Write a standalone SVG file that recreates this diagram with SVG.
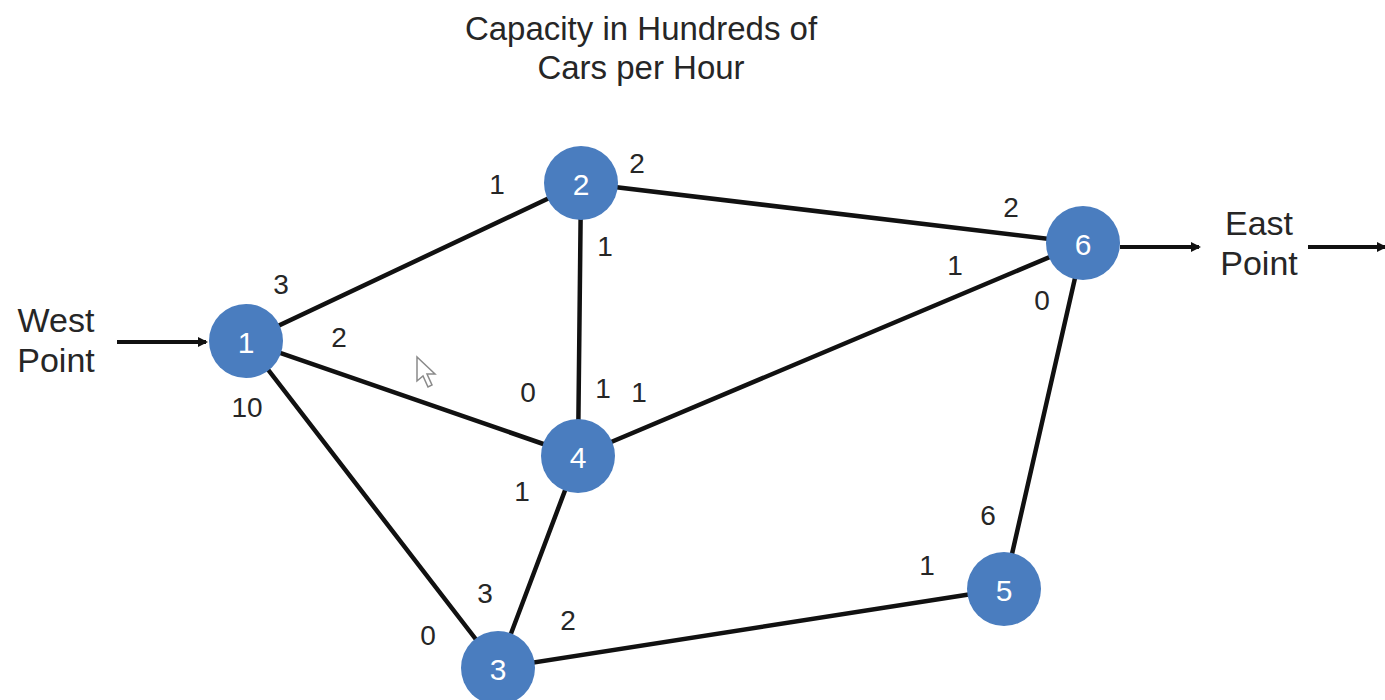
<svg xmlns="http://www.w3.org/2000/svg" width="1385" height="700" viewBox="0 0 1385 700">
<defs>
<style>
.t{font-family:"Liberation Sans",Arial,sans-serif;fill:#262626;}
.title{font-size:33px;text-anchor:middle;}
.side{font-size:34px;text-anchor:middle;}
.lbl{font-size:28px;text-anchor:middle;dominant-baseline:central;}
.nd{fill:#4a7dbf;}
.nt{font-family:"Liberation Sans",Arial,sans-serif;font-size:30px;fill:#ffffff;text-anchor:middle;dominant-baseline:central;}
.e{stroke:#111;stroke-width:4.5;fill:none;stroke-linecap:round;}
.a{stroke:#111;stroke-width:4;fill:none;}
</style>
<marker id="ah" markerWidth="10" markerHeight="10" refX="8" refY="5" orient="auto" markerUnits="userSpaceOnUse">
<path d="M0,0 L10,5 L0,10 Z" fill="#111"/>
</marker>
</defs>
<rect width="1385" height="700" fill="#ffffff"/>
<g id="title">
<text class="t title" x="641" y="40">Capacity in Hundreds of</text>
<text class="t title" x="641" y="79">Cars per Hour</text>
</g>
<g id="connectors">
<line class="e" x1="246" y1="341" x2="581" y2="183"/>
<line class="e" x1="246" y1="341" x2="578" y2="456"/>
<line class="e" x1="246" y1="341" x2="498" y2="668"/>
<line class="e" x1="581" y1="183" x2="1083" y2="243"/>
<line class="e" x1="581" y1="183" x2="578" y2="456"/>
<line class="e" x1="578" y1="456" x2="1083" y2="243"/>
<line class="e" x1="578" y1="456" x2="498" y2="668"/>
<line class="e" x1="498" y1="668" x2="1004" y2="589"/>
<line class="e" x1="1004" y1="589" x2="1083" y2="243"/>
<line class="a" x1="117" y1="342" x2="206" y2="342" marker-end="url(#ah)"/>
<line class="a" x1="1120" y1="247" x2="1199" y2="247" marker-end="url(#ah)"/>
<line class="a" x1="1308" y1="247" x2="1385" y2="247" marker-end="url(#ah)"/>
</g>
<g id="node1"><circle class="nd" cx="246" cy="341" r="37"/><text class="nt" x="246" y="342">1</text></g>
<g id="node2"><circle class="nd" cx="581" cy="183" r="37"/><text class="nt" x="581" y="184">2</text></g>
<g id="node3"><circle class="nd" cx="498" cy="668" r="37"/><text class="nt" x="498" y="669">3</text></g>
<g id="node4"><circle class="nd" cx="578" cy="456" r="37"/><text class="nt" x="578" y="457">4</text></g>
<g id="node5"><circle class="nd" cx="1004" cy="589" r="37"/><text class="nt" x="1004" y="590">5</text></g>
<g id="node6"><circle class="nd" cx="1083" cy="243" r="37"/><text class="nt" x="1083" y="244">6</text></g>
<g id="west">
<text class="t side" x="56" y="332">West</text>
<text class="t side" x="56" y="372">Point</text>
</g>
<g id="east">
<text class="t side" x="1259" y="235">East</text>
<text class="t side" x="1259" y="275">Point</text>
</g>
<g id="labels">
<text class="t lbl" x="497" y="184">1</text>
<text class="t lbl" x="637" y="163">2</text>
<text class="t lbl" x="281" y="284">3</text>
<text class="t lbl" x="339" y="337">2</text>
<text class="t lbl" x="247" y="407">10</text>
<text class="t lbl" x="605" y="246">1</text>
<text class="t lbl" x="1011" y="207">2</text>
<text class="t lbl" x="955" y="265">1</text>
<text class="t lbl" x="1042" y="300">0</text>
<text class="t lbl" x="528" y="392">0</text>
<text class="t lbl" x="603" y="388">1</text>
<text class="t lbl" x="639" y="392">1</text>
<text class="t lbl" x="522" y="491">1</text>
<text class="t lbl" x="485" y="593">3</text>
<text class="t lbl" x="428" y="635">0</text>
<text class="t lbl" x="568" y="620">2</text>
<text class="t lbl" x="927" y="565">1</text>
<text class="t lbl" x="988" y="515">6</text>
</g>
<g id="cursor">
<path d="M417,357 L417,381 L423,376 L428,387 L432,385 L427,374 L435,374 Z" fill="#ffffff" stroke="#8a8a8a" stroke-width="1.5"/>
</g>
</svg>
